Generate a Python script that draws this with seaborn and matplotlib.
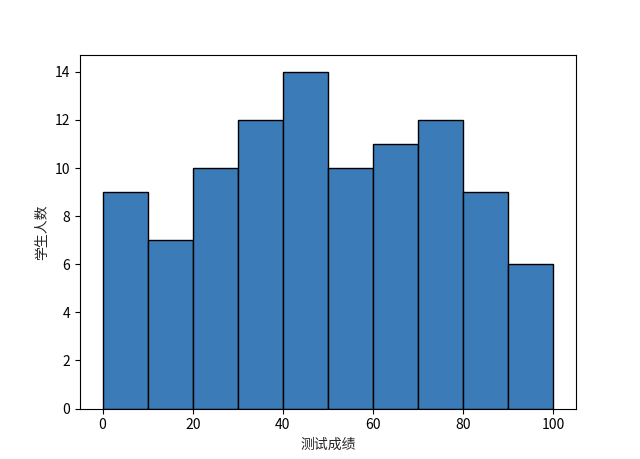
import matplotlib
matplotlib.use("Agg")
import matplotlib.pyplot as plt
import seaborn as sns
import numpy as np
import pandas as pd

bin_edges = [0, 10, 20, 30, 40, 50, 60, 70, 80, 90, 100]
bin_counts = [9, 7, 10, 12, 14, 10, 11, 12, 9, 6]
bin_centers = [5, 15, 25, 35, 45, 55, 65, 75, 85, 95]
xlabel = "测试成绩"
ylabel = "学生人数"

sns.set_style("ticks")
plt.rcParams["font.family"] = ["Noto Sans CJK SC", "DejaVu Sans"]
plt.rcParams["axes.unicode_minus"] = False

df = pd.DataFrame({"score": bin_centers, "count": bin_counts})

fig, ax = plt.subplots(figsize=(6.4, 4.59), dpi=100)
sns.histplot(data=df, x="score", weights="count", bins=bin_edges,
             color="#3a7bb8", alpha=1, edgecolor="black", linewidth=1, ax=ax)
ax.set_xlabel(xlabel, fontsize=10)
ax.set_ylabel(ylabel, fontsize=10)
ax.set_yticks(range(0, 15, 2))
ax.set_xticks(range(0, 101, 20))
ax.set_xlim(-5, 105)
ax.set_ylim(0, 14.7)
for s in ax.spines.values():
    s.set_visible(True)
    s.set_linewidth(0.8)
    s.set_color("black")
ax.tick_params(labelsize=10, colors="black", width=0.8, length=3.5)
fig.subplots_adjust(left=0.125, right=0.9, bottom=0.11, top=0.88)
fig.savefig("out.png", dpi=100)
